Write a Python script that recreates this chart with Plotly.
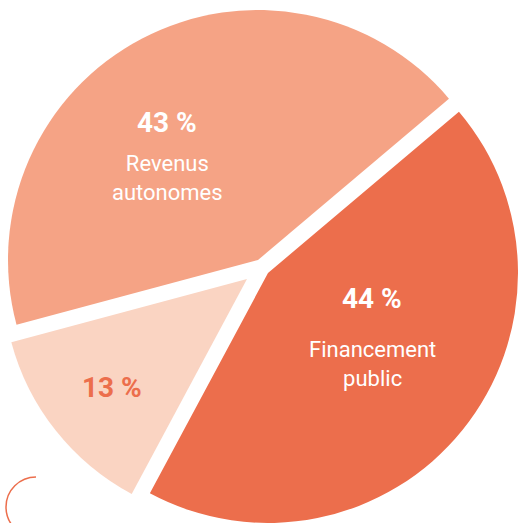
"""Répartition du financement : camembert éclaté en trois parts."""

import plotly.graph_objects as go

W, H = 518, 523

# data
labels = ["Revenus autonomes", "Financement public", "Autres"]
shares = [43, 44, 13]
pct_text = ["43 %", "44 %", "13 %"]
captions = ["Revenus<br>autonomes", "Financement<br>public", ""]

colors = ["#F5A385", "#EC6E4C", "#FAD4C2"]
pct_colors = ["white", "white", "#EC6E4C"]

# each wedge is its own pie trace so it can be nudged out like the print layout
wedge_centers = [(258, 260), (268, 273), (247, 279)]  # px, from top-left
wedge_radius = [250, 250, 244]

# label anchors in px (x, y of percentage, y of caption block)
label_pos = [(167, 122, 178), (372, 298, 364), (112, 387, None)]


def px_x(x):
    return min(max(x / W, 0.0), 1.0)


def px_y(y):
    return min(max(1 - y / H, 0.0), 1.0)


def px_domain(cx, cy, r):
    return {"x": [px_x(cx - r), px_x(cx + r)], "y": [px_y(cy + r), px_y(cy - r)]}


fig = go.Figure()
for i, (cx, cy) in enumerate(wedge_centers):
    fig.add_trace(
        go.Pie(
            labels=labels,
            values=shares,
            sort=False,
            direction="clockwise",
            rotation=-105,
            marker={
                "colors": [c if j == i else "rgba(0,0,0,0)" for j, c in enumerate(colors)],
                "line": {"width": 0},
            },
            textinfo="none",
            hoverinfo="label+percent",
            showlegend=False,
            domain=px_domain(cx, cy, wedge_radius[i]),
        )
    )

annotations = []
for i, (x, y_pct, y_cap) in enumerate(label_pos):
    annotations.append(
        dict(
            x=px_x(x), y=px_y(y_pct), xref="paper", yref="paper",
            text=f"<b>{pct_text[i]}</b>", showarrow=False,
            xanchor="center", yanchor="middle",
            font={"family": "Roboto", "size": 28, "color": pct_colors[i]},
        )
    )
    if y_cap is not None and captions[i]:
        annotations.append(
            dict(
                x=px_x(x), y=px_y(y_cap), xref="paper", yref="paper",
                text=captions[i], showarrow=False,
                xanchor="center", yanchor="middle",
                font={"family": "Roboto", "size": 22, "color": "white"},
            )
        )

# thin decorative arc in the bottom-left corner (quarter circle, bezier)
acx, acy, ar = 36, 507, 30
k = 0.5523 * ar
arc_path = (
    f"M {px_x(acx)},{1 - (acy - ar) / H} "
    f"C {(acx - k) / W},{1 - (acy - ar) / H} {(acx - ar) / W},{1 - (acy - k) / H} {(acx - ar) / W},{1 - acy / H} "
    f"C {(acx - ar) / W},{1 - (acy + k) / H} {(acx - k) / W},{1 - (acy + ar) / H} {acx / W},{1 - (acy + ar) / H}"
)

fig.update_layout(
    width=W,
    height=H,
    margin={"l": 0, "r": 0, "t": 0, "b": 0},
    paper_bgcolor="white",
    plot_bgcolor="white",
    annotations=annotations,
    shapes=[
        dict(type="path", path=arc_path, xref="paper", yref="paper",
             line={"color": "#EC6E4C", "width": 1.5})
    ],
)

# the browser's default 8px body margin would push the figure off the window
fig.write_html(
    "out.html",
    config={"displayModeBar": False},
    post_script="document.body.style.margin = '0';",
)
